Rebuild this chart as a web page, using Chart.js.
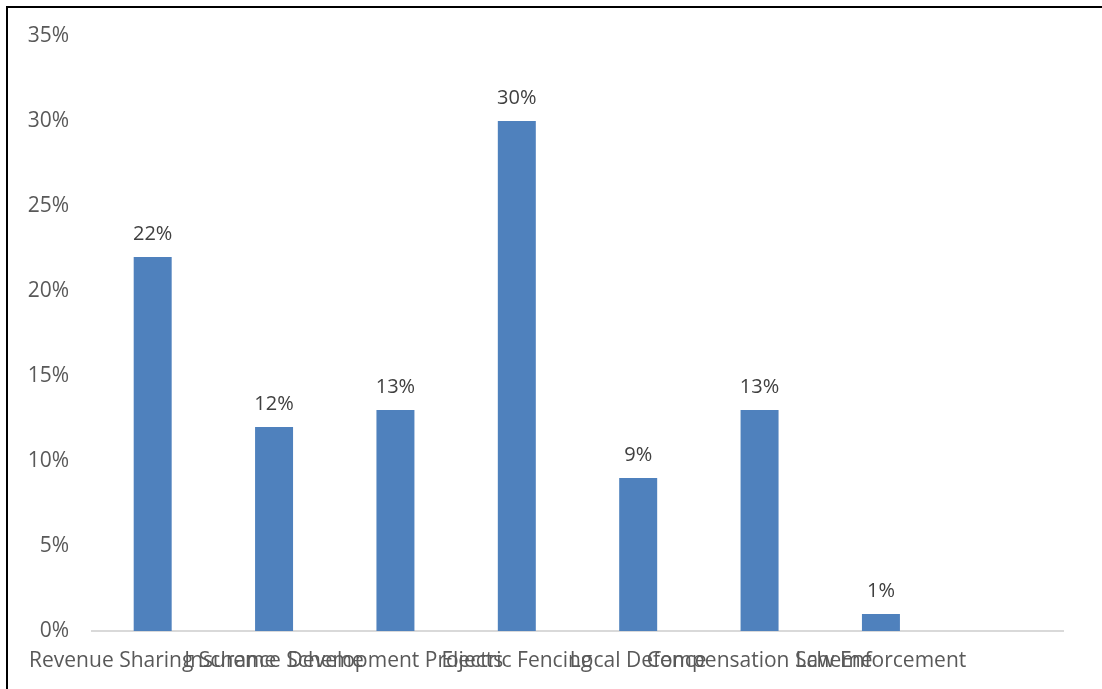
<!DOCTYPE html>
<html>
<head>
<meta charset="utf-8">
<script src="https://cdn.jsdelivr.net/npm/chart.js@4"></script>
<style>
	html, body { margin: 0; padding: 0; background: #fff; }
	#wrap { position: relative; width: 1102px; height: 689px; }
	#frame { position: absolute; left: 6px; top: 6px; right: 0; bottom: 0; border-left: 2px solid #000; border-top: 2px solid #000; pointer-events: none; }
</style>
</head>
<body>
<div id="wrap">
	<canvas id="chartMeasures" width="1102" height="689"></canvas>
	<div id="frame"></div>
</div>
<script>
'use strict'

const categories = [
	'Revenue Sharing Scheme',
	'Insurance Scheme',
	'Development Projects',
	'Electric Fencing',
	'Local Defence',
	'Compensation Scheme',
	'Law Enforcement',
	'',
];
const shares = [22, 12, 13, 30, 9, 13, 1, null];
const yTicks = [0, 5, 10, 15, 20, 25, 30, 35];

const colors = {
	bar: '#4F81BD',
	axisText: '#595959',
	valueText: '#404040',
	axisLine: '#D9D9D9',
};

const fontFamily = '"Open Sans", "Noto Sans", sans-serif';

// draws the percentage above each bar
let valueLabels = {
	id: 'valueLabels',
	afterDatasetsDraw: function (chart) {
		const ctx = chart.ctx;
		const meta = chart.getDatasetMeta(0);
		ctx.save();
		ctx.font = '20px ' + fontFamily;
		ctx.fillStyle = colors.valueText;
		ctx.textAlign = 'center';
		ctx.textBaseline = 'middle';
		meta.data.forEach(function (bar, i) {
			const v = chart.data.datasets[0].data[i];
			if (v === null || v === undefined) return;
			ctx.fillText(v + '%', bar.x, bar.y - 23);
		});
		ctx.restore();
	},
};

let chartMeasures = new Chart(document.getElementById('chartMeasures'), {
	type: 'bar',
	data: {
		labels: categories,
		datasets: [
			{
				data: shares,
				backgroundColor: colors.bar,
				borderWidth: 0,
				barPercentage: 0.313,
				categoryPercentage: 1,
			},
		],
	},
	plugins: [valueLabels],
	options: {
		responsive: false,
		animation: false,
		layout: {
			padding: { left: 0, right: 39, top: 36, bottom: 0 },
		},
		plugins: {
			legend: { display: false },
			tooltip: { enabled: false },
		},
		scales: {
			y: {
				min: 0,
				max: 35,
				afterFit: function (scale) {
					scale.width = 92;
				},
				afterBuildTicks: function (scale) {
					scale.ticks = yTicks.map(function (v) { return { value: v }; });
				},
				grid: { display: false, drawTicks: false },
				border: { display: false },
				ticks: {
					padding: 23,
					color: colors.axisText,
					font: { family: fontFamily, size: 21 },
					callback: function (v) { return v + '%'; },
				},
			},
			x: {
				afterFit: function (scale) {
					scale.height = 58;
				},
				grid: { display: false, drawTicks: false },
				border: { color: colors.axisLine, width: 2 },
				ticks: {
					autoSkip: false,
					maxRotation: 0,
					minRotation: 0,
					padding: 17,
					color: colors.axisText,
					font: { family: fontFamily, size: 21 },
				},
			},
		},
	},
});
</script>
</body>
</html>
